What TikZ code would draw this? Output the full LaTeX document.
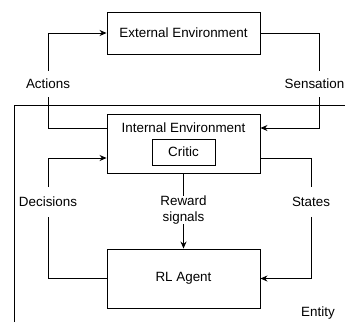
\documentclass[tikz,border=0pt]{standalone}
\usepackage{fontspec}
\setmainfont{Liberation Sans}
\usetikzlibrary{arrows.meta}

\begin{document}
\begin{tikzpicture}[x = 1pt, y = -1pt, line width = .9pt,
    >={Stealth[length=7pt, width=6pt]},
    font = \fontsize{13.4}{15.5}\selectfont,
    box/.style = {draw, minimum width=153pt, inner sep=0pt},
    lbl/.style = {inner sep=0pt, align=center}]
        \useasboundingbox (0,0) rectangle (345,322);
        \draw (14,322) -- (14,105) -- (345,105);
        \node[box, minimum height=42pt] (ext) at (183.5,33) {External Environment};
        \node[box, minimum height=59pt] (int) at (183.5,143.5) {};
        \node (intname) at (183.5,128) {Internal Environment};
        \node[draw, minimum width=63pt, minimum height=26pt, inner sep=0pt] (critic) at (183.5,152) {Critic};
        \node[box, minimum height=59pt] (agent) at (183.5,278.5) {RL Agent};
        \node[lbl, minimum height=26pt] (act) at (48,84) {Actions};
        \node[lbl, minimum height=26pt] (sens) at (314.5,84) {Sensation};
        \node[lbl, minimum height=29pt] (dec) at (48,202) {Decisions};
        \node[lbl, minimum height=29pt] (sta) at (311,202) {States};
        \node[lbl] (rew) at (183.5,210) {Reward\\signals};
        \node (ent) at (318,313) {Entity};
        \draw ([yshift=15.5pt]int.west) -| (act.south);
        \draw[->] (act.north) |- (ext.west);
        \draw (ext.east) -| ([xshift=4.5pt]sens.north);
        \draw[->] ([xshift=4.5pt]sens.south) |- ([yshift=15.5pt]int.east);
        \draw (agent.west) -| (dec.south);
        \draw[->] (dec.north) |- ([yshift=-14.5pt]int.west);
        \draw ([yshift=-14.5pt]int.east) -| (sta.north);
        \draw[->] (sta.south) |- (agent.east);
        \draw (int.south) -- (rew.north);
        \draw[->] (rew.south) -- (agent.north);
      \end{tikzpicture}
\end{document}
